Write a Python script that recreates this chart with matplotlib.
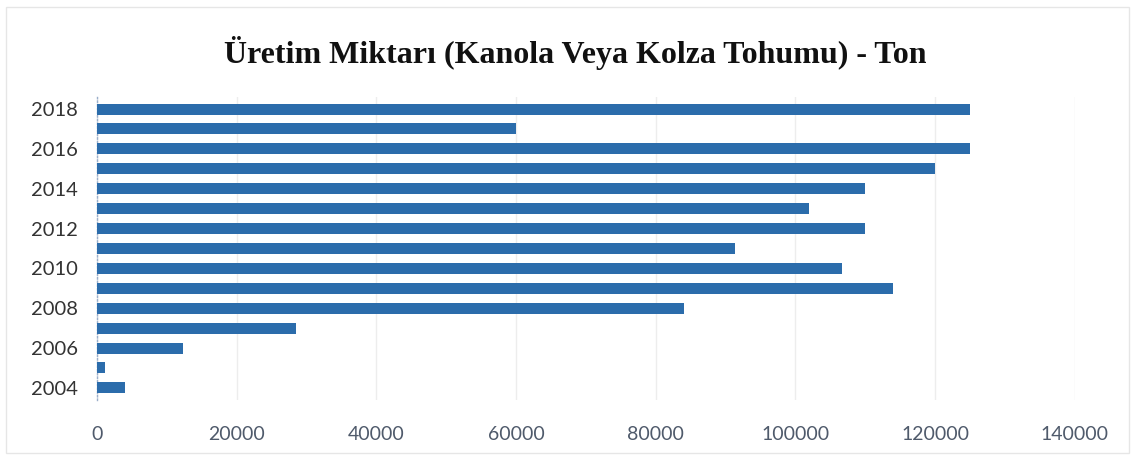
import matplotlib.pyplot as plt
from matplotlib.patches import Rectangle

# production amounts, tonnes
years = [2004, 2005, 2006, 2007, 2008, 2009, 2010, 2011, 2012, 2013, 2014, 2015, 2016, 2017, 2018]
production = [4000, 1200, 12300, 28500, 84000, 114000, 106600, 91400, 110000, 102000, 110000, 120000, 125000, 60000, 125000]
year_ticks = [2004, 2006, 2008, 2010, 2012, 2014, 2016, 2018]
x_ticks = [0, 20000, 40000, 60000, 80000, 100000, 120000, 140000]

fig = plt.figure(figsize=(11.35, 4.58), dpi=100)
ax = fig.add_axes([0.0855, 0.127, 0.8615, 0.661])

ax.barh(years, production, height=0.55, color='#2b6cab', zorder=3)

ax.set_xlim(0, 140000)
ax.set_ylim(2003.4, 2018.6)
ax.set_xticks(x_ticks)
ax.set_yticks(year_ticks)
ax.set_xticklabels([str(t) for t in x_ticks], fontsize=14, color='#4f5a6b', family='Lato')
ax.set_yticklabels([str(y) for y in year_ticks], fontsize=14.5, color='#333333', family='Lato')
ax.tick_params(axis='x', length=0, pad=19)
ax.tick_params(axis='y', length=0, pad=14)

ax.grid(axis='x', color='#ededed', linewidth=1, zorder=0)
for side in ['top', 'right', 'bottom']:
    ax.spines[side].set_visible(False)
ax.spines['left'].set_color('#9aaecb')
ax.spines['left'].set_linestyle(':')
ax.spines['left'].set_linewidth(1)

fig.text(0.507, 0.885, 'Üretim Miktarı (Kanola Veya Kolza Tohumu) - Ton',
         ha='center', va='center', fontsize=23, fontweight='bold',
         family='Liberation Serif', color='#111111')

# faint outer frame
fig.patches.append(Rectangle((0.005, 0.01), 0.99, 0.975, transform=fig.transFigure,
                             fill=False, edgecolor='#e6e6e6', linewidth=1))

fig.savefig('out.png', dpi=100)
